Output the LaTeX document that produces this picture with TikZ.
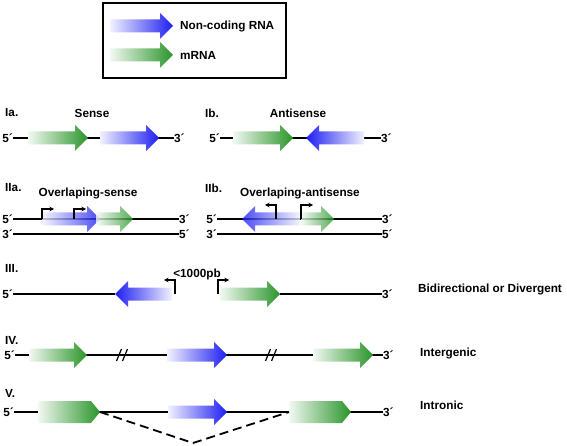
\documentclass[tikz,border=0pt]{standalone}
\usepackage{fontspec}
\setmainfont{Liberation Sans}
\usetikzlibrary{arrows.meta}
\definecolor{NC_Blue}{HTML}{1E1EF2}
\definecolor{MRNA_Green}{HTML}{2A952A}

% gene arrow pointing right: tail x, tip x, y, colour
\newcommand{\fwdarrow}[4]{%
    \shade[left color=#4!6, right color=#4, arrowfill]
        (#1,#3-6.5) -- (#2-13,#3-6.5) -- (#2-13,#3-13) -- (#2,#3)
        -- (#2-13,#3+13) -- (#2-13,#3+6.5) -- (#1,#3+6.5) -- cycle;}
% gene arrow pointing left: tail x, tip x, y, colour
\newcommand{\revarrow}[4]{%
    \shade[right color=#4!6, left color=#4, arrowfill]
        (#1,#3-6.5) -- (#2+13,#3-6.5) -- (#2+13,#3-13) -- (#2,#3)
        -- (#2+13,#3+13) -- (#2+13,#3+6.5) -- (#1,#3+6.5) -- cycle;}
% exon block: tail x, tip x, y
\newcommand{\exonblock}[3]{%
    \shade[left color=MRNA_Green!6, right color=MRNA_Green]
        (#1,#3-11) -- (#2-9,#3-11) -- (#2,#3) -- (#2-9,#3+11) -- (#1,#3+11) -- cycle;}

\begin{document}
\begin{tikzpicture}[x=1bp, y=-1bp,
    lbl/.style={font=\fontsize{11.8}{14}\selectfont\bfseries, inner sep=0pt},
    strand/.style={line width=1.8bp},
    prom/.style={line width=1.4bp, -{Stealth[length=4.5pt,width=4.5pt]}},
    arrowfill/.style={}]
    \useasboundingbox (0,0) rectangle (567,446);

    % Legend
    \draw[line width=1.8bp] (103,3) rectangle (286,78);
    \fwdarrow{110}{173}{26}{NC_Blue}
    \fwdarrow{110}{173}{55}{MRNA_Green}
    \node[lbl, anchor=west] (legnc) at (180,26) {Non-coding RNA};
    \node[lbl, anchor=west] (legm) at (180,55) {mRNA};

    % Ia. Sense
    \node[lbl, anchor=west] (ia) at (5,113) {Ia.};
    \node[lbl] (sense) at (92,113) {Sense};
    \node[lbl, anchor=east] (ia5) at (13,138) {5´};
    \node[lbl, anchor=west] (ia3) at (174,138) {3´};
    \draw[strand] (ia5.east) -- (ia3.west);
    \fwdarrow{28}{88}{138}{MRNA_Green}
    \fwdarrow{100}{159}{138}{NC_Blue}

    % Ib. Antisense
    \node[lbl, anchor=west] (ib) at (205,113) {Ib.};
    \node[lbl] (antisense) at (298,113) {Antisense};
    \node[lbl, anchor=east] (ib5) at (220,138) {5´};
    \node[lbl, anchor=west] (ib3) at (381,138) {3´};
    \draw[strand] (ib5.east) -- (ib3.west);
    \fwdarrow{233}{293}{138}{MRNA_Green}
    \revarrow{364}{306}{138}{NC_Blue}

    % IIa. Overlaping-sense
    \node[lbl, anchor=west] (iia) at (5,188) {IIa.};
    \node[lbl] (ovsense) at (88,193) {Overlaping-sense};
    \node[lbl, anchor=east] (iia5) at (13,219) {5´};
    \node[lbl, anchor=west] (iia3) at (179,219) {3´};
    \node[lbl, anchor=east] (iia3b) at (13,234) {3´};
    \node[lbl, anchor=west] (iia5b) at (179,234) {5´};
    \draw[strand] (iia5.east) -- (iia3.west);
    \draw[strand] (iia3b.east) -- (iia5b.west);
    \tikzset{arrowfill/.style={fill opacity=0.8}}
    \fwdarrow{42}{100}{219}{NC_Blue}
    \fwdarrow{96}{133}{219}{MRNA_Green}
    \tikzset{arrowfill/.style={}}
    \draw[prom] (42,219) -- (42,209) -- (54,209);
    \draw[prom] (74,219) -- (74,209) -- (86,209);

    % IIb. Overlaping-antisense
    \node[lbl, anchor=west] (iib) at (205,188) {IIb.};
    \node[lbl] (ovanti) at (300,193) {Overlaping-antisense};
    \node[lbl, anchor=east] (iib5) at (217,219) {5´};
    \node[lbl, anchor=west] (iib3) at (382,219) {3´};
    \node[lbl, anchor=east] (iib3b) at (217,234) {3´};
    \node[lbl, anchor=west] (iib5b) at (382,234) {5´};
    \draw[strand] (iib5.east) -- (iib3.west);
    \draw[strand] (iib3b.east) -- (iib5b.west);
    \tikzset{arrowfill/.style={fill opacity=0.8}}
    \revarrow{300}{242}{219}{NC_Blue}
    \fwdarrow{301}{334}{219}{MRNA_Green}
    \tikzset{arrowfill/.style={}}
    \draw[prom] (276,219) -- (276,205) -- (265,205);
    \draw[prom] (301,219) -- (301,205) -- (313,205);

    % III. Bidirectional
    \node[lbl, anchor=west] (iii) at (5,268) {III.};
    \node[lbl] (dist) at (197,274) {<1000pb};
    \node[lbl, anchor=east] (iii5) at (13,294) {5´};
    \node[lbl, anchor=west] (iii3) at (382,294) {3´};
    \node[lbl, anchor=west] (bidir) at (418,289) {Bidirectional or Divergent};
    \coordinate (bluetip) at (115,294);
    \coordinate (greentip) at (280,294);
    \draw[strand] (iii5.east) -- (bluetip);
    \draw[strand] (greentip) -- (iii3.west);
    \revarrow{172}{115}{294}{NC_Blue}
    \fwdarrow{220}{280}{294}{MRNA_Green}
    \draw[prom] (175,294) -- (175,280) -- (164,280);
    \draw[prom] (218,294) -- (218,280) -- (229,280);

    % IV. Intergenic
    \node[lbl, anchor=west] (iv) at (5,340) {IV.};
    \node[lbl, anchor=east] (iv5) at (15,355) {5´};
    \node[lbl, anchor=west] (iv3) at (383,355) {3´};
    \node[lbl, anchor=west] (intergenic) at (420,353) {Intergenic};
    \draw[strand] (iv5.east) -- (iv3.west);
    \fwdarrow{29}{87}{355}{MRNA_Green}
    \fwdarrow{167}{227}{355}{NC_Blue}
    \fwdarrow{313}{373}{355}{MRNA_Green}
    \foreach \hx in {122, 271} {
        \foreach \dx in {-3, 3} {
            \draw[line width=1.2bp] (\hx+\dx-2.5,361) -- (\hx+\dx+2.5,349);
        }
    }

    % V. Intronic
    \node[lbl, anchor=west] (v) at (5,393) {V.};
    \node[lbl, anchor=east] (v5) at (14,412) {5´};
    \node[lbl, anchor=west] (v3) at (383,412) {3´};
    \node[lbl, anchor=west] (intronic) at (420,405) {Intronic};
    \draw[strand] (v5.east) -- (v3.west);
    \exonblock{38}{100}{412}
    \fwdarrow{168}{227}{412}{NC_Blue}
    \exonblock{289}{351}{412}
    \coordinate (exonend) at (100,412);
    \coordinate (splice) at (193,443);
    \coordinate (exonstart) at (289,412);
    \draw[strand, dash pattern=on 9bp off 5bp] (exonend) -- (splice) -- (exonstart);

\end{tikzpicture}
\end{document}
